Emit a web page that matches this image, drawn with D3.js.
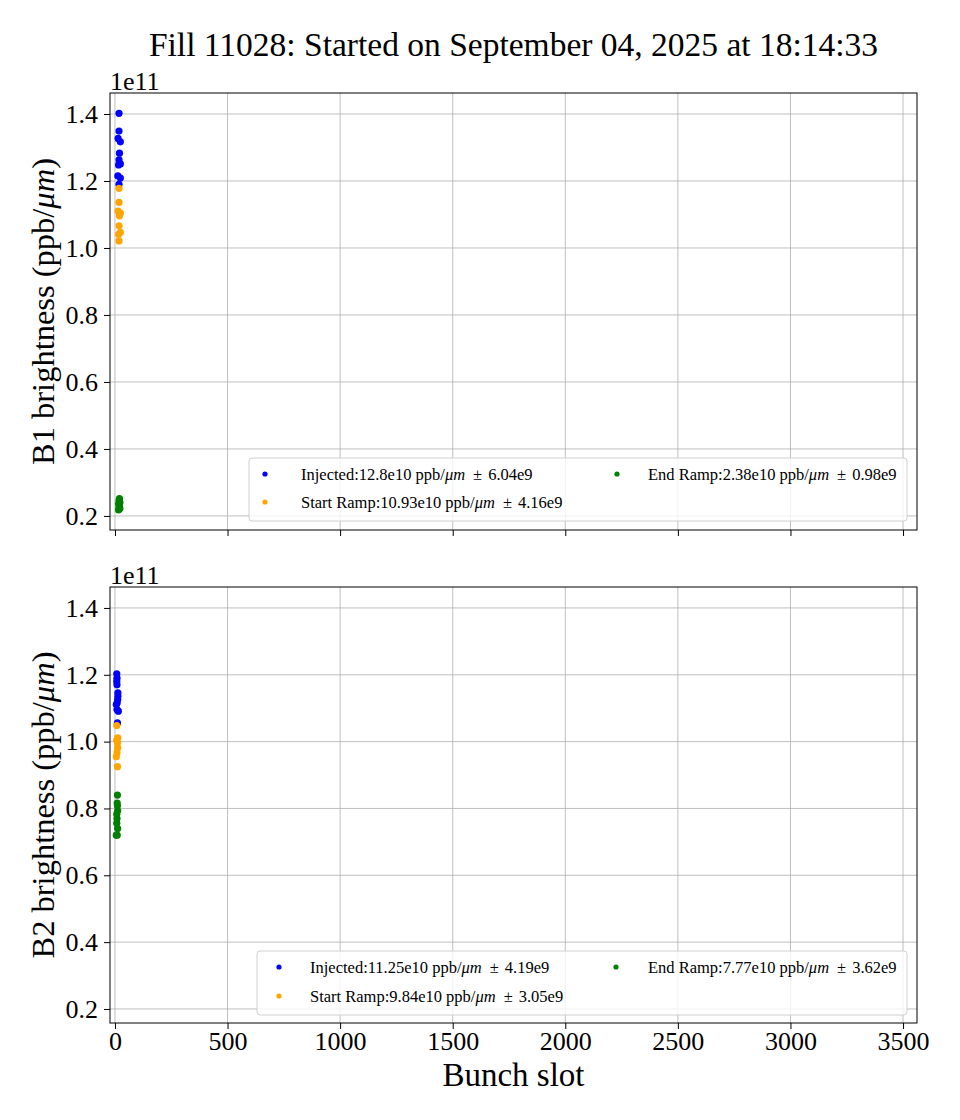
<!DOCTYPE html>
<html>
<head>
<meta charset="utf-8">
<script src="https://cdn.jsdelivr.net/npm/d3@7"></script>
<style>
  body { margin: 0; background: #fff; }
  text { font-family: "Liberation Serif", "DejaVu Serif", serif; fill: #000; }
</style>
</head>
<body>
<div id="chart"></div>
<script>
// bunch slots and brightness (units of 1e11 ppb/um)
var b1InjSlot = [18, 18, 14, 24, 20, 18, 24, 16, 13, 24, 18];
var b1InjVal  = [1.402, 1.349, 1.327, 1.317, 1.283, 1.263, 1.251, 1.248, 1.215, 1.209, 1.190];
var b1StartSlot = [18, 18, 14, 24, 20, 18, 24, 16, 18];
var b1StartVal  = [1.178, 1.136, 1.110, 1.104, 1.096, 1.066, 1.047, 1.041, 1.021];
var b1EndSlot = [20, 18, 22, 16, 20, 18, 22, 16];
var b1EndVal  = [0.252, 0.246, 0.240, 0.236, 0.230, 0.226, 0.222, 0.218];

var b2InjSlot = [8, 9, 8, 9, 13, 13, 12, 10, 6, 9, 15, 11];
var b2InjVal  = [1.203, 1.190, 1.180, 1.170, 1.146, 1.136, 1.126, 1.116, 1.111, 1.096, 1.091, 1.056];
var b2StartSlot = [8, 12, 8, 11, 12, 9, 6, 11];
var b2StartVal  = [1.048, 1.011, 1.004, 0.997, 0.982, 0.967, 0.955, 0.925];
var b2EndSlot = [11, 10, 11, 12, 8, 9, 8, 12, 6, 10];
var b2EndVal  = [0.840, 0.816, 0.808, 0.793, 0.783, 0.770, 0.756, 0.740, 0.720, 0.720];

var legendB1 = ["Injected:12.8e10 ppb/", "Start Ramp:10.93e10 ppb/", "End Ramp:2.38e10 ppb/"];
var legendB1Err = ["6.04e9", "4.16e9", "0.98e9"];
var legendB2 = ["Injected:11.25e10 ppb/", "Start Ramp:9.84e10 ppb/", "End Ramp:7.77e10 ppb/"];
var legendB2Err = ["4.19e9", "3.05e9", "3.62e9"];
var colors = ["#0000ff", "#ffa500", "#008000"];

var xTicks = [0, 500, 1000, 1500, 2000, 2500, 3000, 3500];
var yTicks = [0.2, 0.4, 0.6, 0.8, 1.0, 1.2, 1.4];

const WIDTH = 960, HEIGHT = 1120;
const LEFT = 110, RIGHT = 917;

var svg = d3.select('#chart').append('svg')
  .attr('width', WIDTH)
  .attr('height', HEIGHT);

svg.append('text')
  .attr('x', (LEFT + RIGHT) / 2)
  .attr('y', 56)
  .attr('text-anchor', 'middle')
  .style('font-size', '33.5px')
  .text('Fill 11028: Started on September 04, 2025 at 18:14:33');

var x = d3.scaleLinear().domain([-22, 3562]).range([LEFT, RIGHT]);

var panels = [
  { top: 93, bottom: 530, label: 'B1',
    series: [[b1InjSlot, b1InjVal], [b1StartSlot, b1StartVal], [b1EndSlot, b1EndVal]],
    legend: legendB1, err: legendB1Err,
    box: [249, 458, 907, 521], col1: [265, 301], col2: [617, 648], rows: [474, 502], showX: false },
  { top: 587, bottom: 1023, label: 'B2',
    series: [[b2InjSlot, b2InjVal], [b2StartSlot, b2StartVal], [b2EndSlot, b2EndVal]],
    legend: legendB2, err: legendB2Err,
    box: [257, 951, 907, 1015], col1: [279, 310], col2: [616, 648], rows: [967, 996], showX: true }
];

panels.forEach(function(p) {
  var y = d3.scaleLinear().domain([0.158, 1.4627]).range([p.bottom, p.top]);
  var g = svg.append('g');

  // grid
  g.selectAll('.vg').data(xTicks).enter().append('line')
    .attr('x1', function(d) { return x(d); }).attr('x2', function(d) { return x(d); })
    .attr('y1', p.top).attr('y2', p.bottom)
    .style('stroke', '#b0b0b0').style('stroke-width', 0.8);
  g.selectAll('.hg').data(yTicks).enter().append('line')
    .attr('x1', LEFT).attr('x2', RIGHT)
    .attr('y1', function(d) { return y(d); }).attr('y2', function(d) { return y(d); })
    .style('stroke', '#b0b0b0').style('stroke-width', 0.8);

  // points
  p.series.forEach(function(s, si) {
    var pts = s[0].map(function(d, i) { return { slot: d, val: s[1][i] }; });
    g.selectAll('.pt' + si).data(pts).enter().append('circle')
      .attr('cx', function(d) { return x(d.slot); })
      .attr('cy', function(d) { return y(d.val); })
      .attr('r', 3.6)
      .style('fill', colors[si]);
  });

  // axes
  var xAxis = d3.axisBottom(x).tickValues(xTicks).tickSize(6).tickPadding(2.5)
    .tickFormat(p.showX ? d3.format('d') : '');
  var gx = g.append('g').attr('transform', 'translate(0,' + p.bottom + ')').call(xAxis);
  var yAxis = d3.axisLeft(y).tickValues(yTicks).tickSize(6).tickPadding(6).tickFormat(d3.format('.1f'));
  var gy = g.append('g').attr('transform', 'translate(' + LEFT + ',0)').call(yAxis);
  [gx, gy].forEach(function(a) {
    a.attr('font-family', '"Liberation Serif", serif');
    a.select('.domain').remove();
    a.selectAll('.tick line').style('stroke', '#000').style('stroke-width', 1);
    a.selectAll('.tick text').style('font-family', '"Liberation Serif", serif').style('font-size', '26px').attr('fill', '#000');
  });

  g.append('rect')
    .attr('x', LEFT).attr('y', p.top)
    .attr('width', RIGHT - LEFT).attr('height', p.bottom - p.top)
    .style('fill', 'none').style('stroke', '#000').style('stroke-width', 1);

  // offset text
  g.append('text')
    .attr('x', LEFT).attr('y', p.top - 3)
    .style('font-size', '26px')
    .text('1e11');

  // y label
  var yl = g.append('text')
    .attr('transform', 'translate(54,' + (p.top + p.bottom) / 2 + ') rotate(-90)')
    .attr('text-anchor', 'middle')
    .style('font-size', '32.5px');
  yl.append('tspan').text(p.label + ' brightness (ppb/');
  yl.append('tspan').style('font-style', 'italic').text('μm');
  yl.append('tspan').text(')');

  // legend
  var b = p.box;
  g.append('rect')
    .attr('x', b[0]).attr('y', b[1]).attr('width', b[2] - b[0]).attr('height', b[3] - b[1])
    .attr('rx', 3)
    .style('fill', 'rgba(255,255,255,0.8)').style('stroke', '#d0d0d0').style('stroke-width', 1);
  var slots = [[p.col1, p.rows[0]], [p.col1, p.rows[1]], [p.col2, p.rows[0]]];
  p.legend.forEach(function(txt, i) {
    var c = slots[i][0], ry = slots[i][1];
    g.append('circle').attr('cx', c[0]).attr('cy', ry).attr('r', 2.6).style('fill', colors[i]);
    var t = g.append('text').attr('x', c[1]).attr('y', ry + 6).style('font-size', '16.5px');
    t.append('tspan').text(txt);
    t.append('tspan').style('font-style', 'italic').text('μm');
    t.append('tspan').text('\u00b1').attr('dx', 8);
    t.append('tspan').text(p.err[i]).attr('dx', 6);
  });
});

svg.append('text')
  .attr('x', (LEFT + RIGHT) / 2)
  .attr('y', 1086)
  .attr('text-anchor', 'middle')
  .style('font-size', '33px')
  .text('Bunch slot');
</script>
</body>
</html>
